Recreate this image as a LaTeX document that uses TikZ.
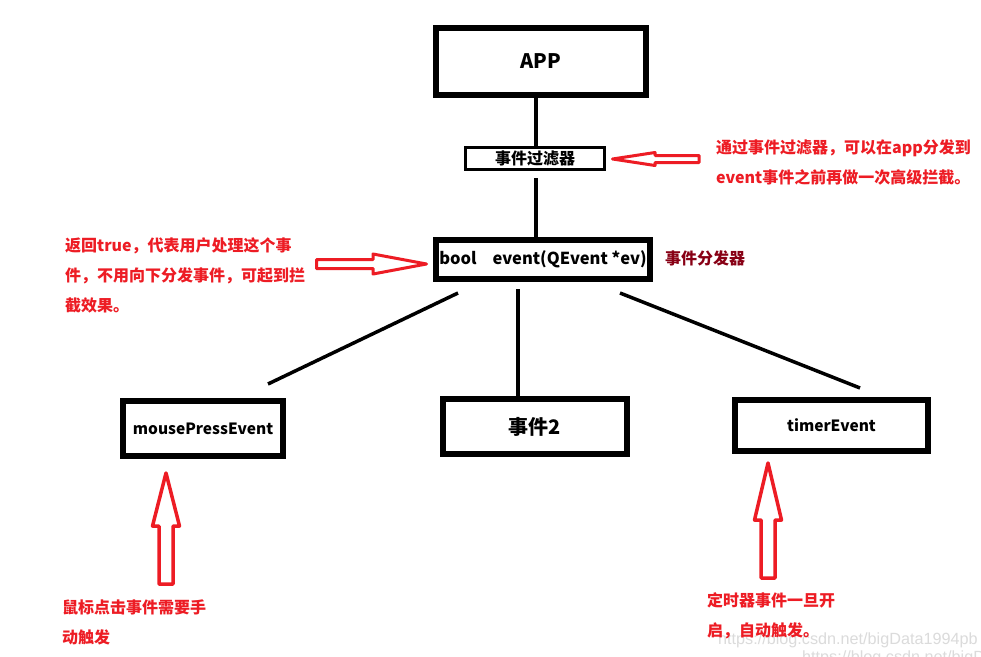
\documentclass[tikz,border=0pt]{standalone}
\usepackage{fontspec}
\setmainfont{Noto Sans CJK SC}
\newfontfamily\wmfont{Liberation Sans}
\usetikzlibrary{calc}
\definecolor{pred}{HTML}{ED1C24}
\definecolor{pdark}{HTML}{880015}
\begin{document}
\begin{tikzpicture}[x=1pt,y=-1pt,
  box/.style={draw=black, fill=white, line width=6pt, inner sep=0pt, outer sep=0pt},
  link/.style={line width=3.5pt},
  hollow/.style={draw=pred, line width=3pt, line join=round},
  note/.style={text=pred, font=\bfseries\fontsize{16}{30}\selectfont, align=left, anchor=base west, inner sep=0pt},
  wm/.style={text=black!14, font=\wmfont\fontsize{16.2}{20}\selectfont, anchor=base west, inner sep=0pt},
]
\useasboundingbox (0,0) rectangle (981,656);
\fill[white] (0,0) rectangle (981,656);

% faint site watermark
\begin{scope}
  \clip (0,0) rectangle (981,656);
  \node[wm] (wmA) at (718,644) {https://blog.csdn.net/bigData1994pb};
  \node[wm] (wmB) at (802,662) {https://blog.csdn.net/bigData1994pb};
\end{scope}

% boxes
\node[box, minimum width=210pt, minimum height=67pt, font=\bfseries\fontsize{20}{24}\selectfont] (app) at (541,61.5) {APP};
\node[box, line width=3pt, minimum width=139pt, minimum height=22pt, font=\bfseries\fontsize{16}{20}\selectfont] (filter) at (535,158.5) {事件过滤器};
\node[box, minimum width=214pt, minimum height=39pt, font=\bfseries\fontsize{16.5}{20}\selectfont] (event) at (543,259.5) {bool\hspace{16pt}event(QEvent *ev)};
\node[box, minimum width=160pt, minimum height=55pt, font=\bfseries\fontsize{15.5}{20}\selectfont] (mouse) at (203,428.5) {mousePressEvent};
\node[box, minimum width=184pt, minimum height=55pt, font=\bfseries\fontsize{20}{24}\selectfont] (ev2) at (535,426.5) {事件2};
\node[box, minimum width=193pt, minimum height=51pt, font=\bfseries\fontsize{15.5}{20}\selectfont] (timer) at (831.5,425.5) {timerEvent};

\node[text=pdark, font=\bfseries\fontsize{16}{20}\selectfont, anchor=base west, inner sep=0pt] (dispatch) at (665,264) {事件分发器};

% connectors
\draw[link] ($(app.center)+(-5,36.5)$) -- ($(filter.center)+(1,-12.5)$);
\draw[link] ($(filter.center)+(1,19.5)$) -- ($(event.center)+(-7,-22.5)$);
\draw[link] ($(event.center)+(-85,33.5)$) -- ($(mouse.center)+(65,-44.5)$);
\draw[link] ($(event.center)+(-25,29.5)$) -- ($(ev2.center)+(-17,-30.5)$);
\draw[link] ($(event.center)+(77,33.5)$) -- ($(timer.center)+(28.5,-37.5)$);

% hollow red pointer arrows
\draw[hollow] (612.5,159) -- (655,152.5) -- (655,155.5) -- (699,155.5) -- (699,162.5) -- (655,162.5) -- (655,165.5) -- cycle;
\draw[hollow] (316.5,259.5) -- (373,259.5) -- (373,254) -- (426.5,264) -- (373,274) -- (373,268.5) -- (316.5,268.5) -- cycle;
\draw[hollow, line width=3.5pt] (166,473) -- (179.5,526) -- (173,526) -- (173,584) -- (159,584) -- (159,526) -- (152.5,526) -- cycle;
\draw[hollow, line width=3.5pt] (768,463) -- (781.5,520) -- (775,520) -- (775,578) -- (761,578) -- (761,520) -- (754.5,520) -- cycle;

% red notes (anchored at the baseline of their last line)
\node[note] (noteFilter) at (716,183) {通过事件过滤器，可以在app分发到\\event事件之前再做一次高级拦截。};
\node[note] (noteTrue) at (65,311) {返回true，代表用户处理这个事\\件，不用向下分发事件，可起到拦\\截效果。};
\node[note] (noteMouse) at (62,643) {鼠标点击事件需要手\\动触发};
\node[note] (noteTimer) at (707,636) {定时器事件一旦开\\启，自动触发。};
\end{tikzpicture}
\end{document}
